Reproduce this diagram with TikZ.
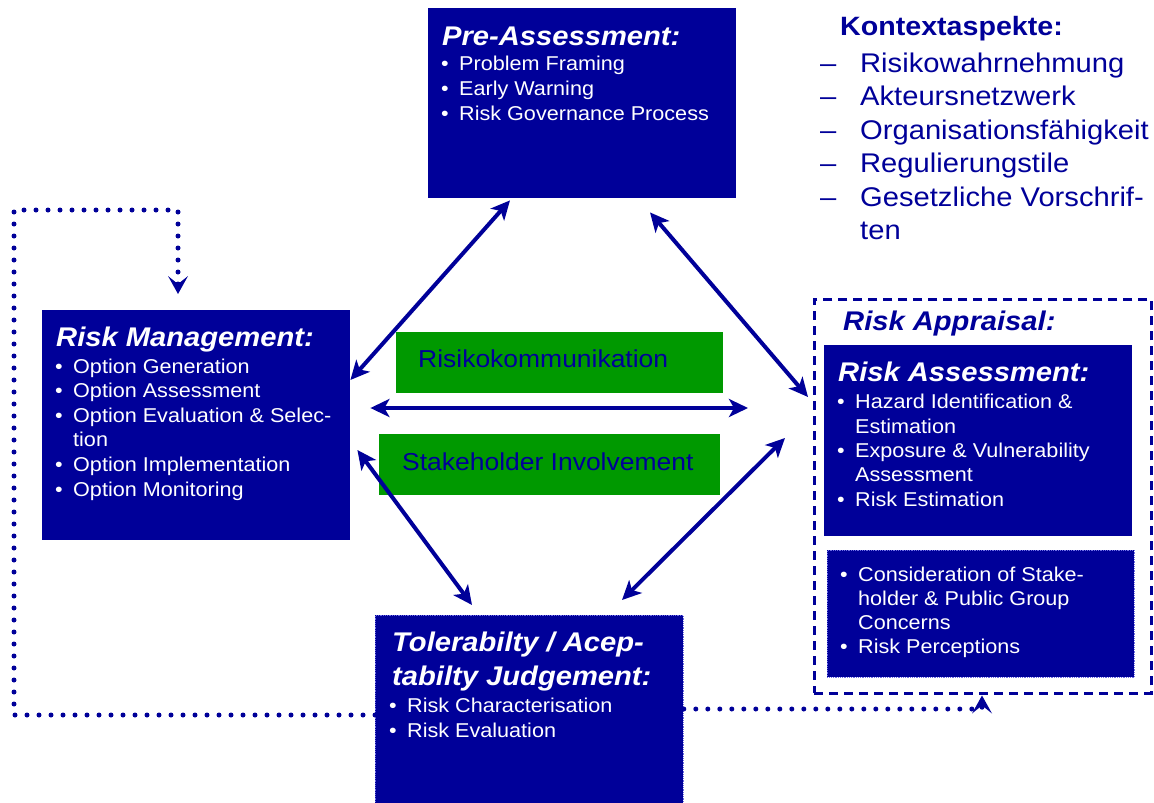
\documentclass[tikz,border=0pt]{standalone}
\usepackage{fontspec}
\setmainfont{Liberation Sans}[FakeStretch=1.08]
\usetikzlibrary{arrows.meta}
\definecolor{navy}{RGB}{0,0,153}
\definecolor{leaf}{RGB}{0,153,0}
\definecolor{rim}{RGB}{110,110,230}
\newcommand{\bul}{\makebox[18pt][l]{\textbullet}}
\newcommand{\hng}{\hspace*{18pt}}
\newcommand{\dsh}{\makebox[40pt][l]{--}}
\newcommand{\ttl}{\fontsize{27}{34}\bfseries\itshape\selectfont}

\begin{document}
\begin{tikzpicture}[x=1pt, y=-1pt,
    box/.style={fill=navy, inner sep=0pt, anchor=north west},
    greenbox/.style={fill=leaf, inner sep=0pt, anchor=north west},
    head/.style={anchor=base west, inner sep=0pt, text=white, font=\ttl},
    items/.style={anchor=base west, inner sep=0pt, text=white, align=left,
        font=\fontsize{20}{24.5}\selectfont},
    twoway/.style={navy, line width=4pt,
        {Stealth[length=19pt,width=18pt,inset=5pt]}-{Stealth[length=19pt,width=18pt,inset=5pt]}},
    feedback/.style={navy, line width=5pt, line cap=round, dash pattern=on 0pt off 12pt,
        -{Stealth[length=18pt,width=20pt,inset=8pt,line width=0pt]}}]
    \useasboundingbox (0,0) rectangle (1154,803);

    % Boxes
    \node[box, minimum width=308pt, minimum height=190pt] (pre) at (428,8) {};
    \node[box, minimum width=308pt, minimum height=230pt] (rm) at (42,310) {};
    \node[draw=navy, line width=2.5pt, dash pattern=on 9pt off 6pt, inner sep=0pt,
        anchor=north west, minimum width=337pt, minimum height=394pt] (appraisal) at (813,298) {};
    \node[box, minimum width=308pt, minimum height=191pt] (ra) at (824,345) {};
    \node[box, draw=rim, densely dotted, line width=0.8pt,
        minimum width=307pt, minimum height=127pt] (concerns) at (827,550) {};
    \node[box, draw=rim, densely dotted, line width=0.8pt,
        minimum width=308pt, minimum height=190pt] (tol) at (375,615) {};
    \node[greenbox, minimum width=327pt, minimum height=61pt] (comm) at (396,332) {};
    \node[greenbox, minimum width=341pt, minimum height=61pt] (involve) at (379,434) {};

    % Texts (multi-line nodes sit on the baseline of their last line)
    \node[head] (pretitle) at (442,45) {Pre-Assessment:};
    \node[items, font=\fontsize{20}{25}\selectfont] (prelist) at (441,120)
        {\bul Problem Framing\\ \bul Early Warning\\ \bul Risk Governance Process};

    \node[head] (rmtitle) at (56,346) {Risk Management:};
    \node[items, font=\fontsize{20}{24.6}\selectfont] (rmlist) at (55,496)
        {\bul Option Generation\\ \bul Option Assessment\\
        \bul Option Evaluation \& Selec-\\ \hng tion\\ \bul Option Implementation\\
        \bul Option Monitoring};

    \node[head, text=navy] (appraisaltitle) at (843,330) {Risk Appraisal:};
    \node[head] (ratitle) at (838,381) {Risk Assessment:};
    \node[items, font=\fontsize{20}{24.3}\selectfont] (ralist) at (837,506)
        {\bul Hazard Identification \&\\ \hng Estimation\\ \bul Exposure \& Vulnerability\\
        \hng Assessment\\ \bul Risk Estimation};
    \node[items, font=\fontsize{20}{24}\selectfont] (concernslist) at (840,653)
        {\bul Consideration of Stake-\\ \hng holder \& Public Group\\ \hng Concerns\\
        \bul Risk Perceptions};

    \node[head, align=left] (toltitle) at (392,685)
        {Tolerabilty / Acep-\\ tabilty Judgement:};
    \node[items, font=\fontsize{20}{25}\selectfont] (tollist) at (389,737)
        {\bul Risk Characterisation\\ \bul Risk Evaluation};

    \node[anchor=base west, inner sep=0pt, text=navy, font=\fontsize{24.5}{30}\selectfont]
        (commtext) at (418,367) {Risikokommunikation};
    \node[anchor=base west, inner sep=0pt, text=navy, font=\fontsize{24.5}{30}\selectfont]
        (involvetext) at (402,470) {Stakeholder Involvement};

    % Kontext
    \node[anchor=base west, inner sep=0pt, text=navy, font=\fontsize{26.5}{30}\bfseries\selectfont]
        (kontexttitle) at (840,35) {Kontextaspekte:};
    \node[anchor=base west, inner sep=0pt, text=navy, align=left,
        font=\fontsize{27}{33.5}\selectfont] (kontextlist) at (820,239.5)
        {\dsh Risikowahrnehmung\\ \dsh Akteursnetzwerk\\ \dsh Organisationsfähigkeit\\
        \dsh Regulierungstile\\ \dsh Gesetzliche Vorschrif-\\ \hspace*{40pt}ten};

    % Arrows
    \draw[twoway] ([xshift=82pt,yshift=-2pt]pre.south west) -- ([yshift=-70pt]rm.north east);
    \draw[twoway] ([xshift=222pt,yshift=-14pt]pre.south west) -- ([xshift=-5pt,yshift=-99pt]appraisal.north west);
    \draw[twoway] ([xshift=20pt,yshift=-98pt]rm.north east) -- ([xshift=-65pt,yshift=-110pt]appraisal.north west);
    \draw[twoway] ([xshift=7pt,yshift=-140pt]rm.north east) -- ([xshift=97pt,yshift=10pt]tol.north west);
    \draw[twoway] ([xshift=-28pt,yshift=-140pt]appraisal.north west) -- ([xshift=247pt,yshift=15pt]tol.north west);

    % Feedback
    \draw[feedback] ([yshift=-100pt]tol.north west) -| (14,210) -| ([xshift=136pt,yshift=16pt]rm.north west);
    \draw[feedback] ([yshift=-94pt]tol.north east) -| ([xshift=169pt,yshift=-1pt]appraisal.south west);
\end{tikzpicture}
\end{document}
